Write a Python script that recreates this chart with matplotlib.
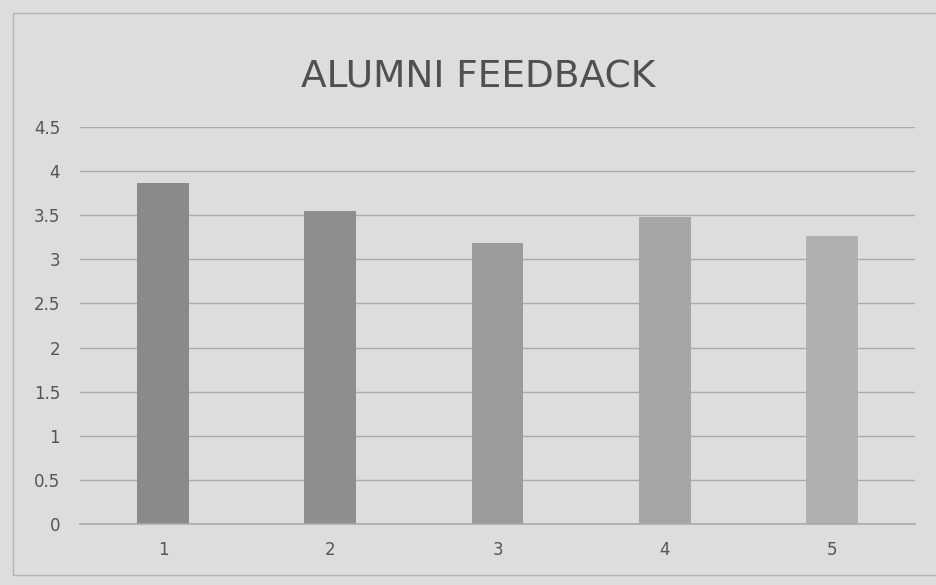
import matplotlib
matplotlib.use("Agg")
import matplotlib.pyplot as plt
from matplotlib.patches import Rectangle

# data
categories = ["1", "2", "3", "4", "5"]
scores = [3.86, 3.55, 3.19, 3.48, 3.27]
bar_colors = ["#8a8a8a", "#8e8e8e", "#9b9b9b", "#a6a6a6", "#b0b0b0"]
y_ticks = [0, 0.5, 1, 1.5, 2, 2.5, 3, 3.5, 4, 4.5]
y_labels = ["0", "0.5", "1", "1.5", "2", "2.5", "3", "3.5", "4", "4.5"]

paper = "#dedcde"

fig = plt.figure(figsize=(9.37, 5.85), dpi=100, facecolor=paper)
ax = fig.add_axes([0.085, 0.104, 0.892, 0.679])
ax.set_facecolor(paper)

x = list(range(1, len(categories) + 1))
ax.bar(x, scores, width=0.31, color=bar_colors, zorder=3)

ax.set_xlim(0.5, 5.5)
ax.set_ylim(0, 4.5)
ax.set_yticks(y_ticks)
ax.set_yticklabels(y_labels)
ax.set_xticks(x)
ax.set_xticklabels(categories)
ax.tick_params(length=0, labelsize=12, colors="#555555")
ax.tick_params(axis="y", pad=14)
ax.tick_params(axis="x", pad=12)
ax.grid(axis="y", color="#aaaaaa", linewidth=1.0, zorder=0)
ax.axhline(0, color="#aaaaaa", linewidth=1.2, zorder=4, clip_on=False)
for s in ax.spines.values():
    s.set_visible(False)

fig.text(0.51, 0.868, "ALUMNI FEEDBACK", ha="center", va="center",
         fontsize=27, color="#505050")

# chart frame from the printed page
fig.patches.append(Rectangle((0.014, 0.017), 0.99, 0.96, transform=fig.transFigure,
                             fill=False, edgecolor="#b5b5b5", linewidth=1.0))

fig.savefig("out.png", dpi=100, facecolor=paper)
